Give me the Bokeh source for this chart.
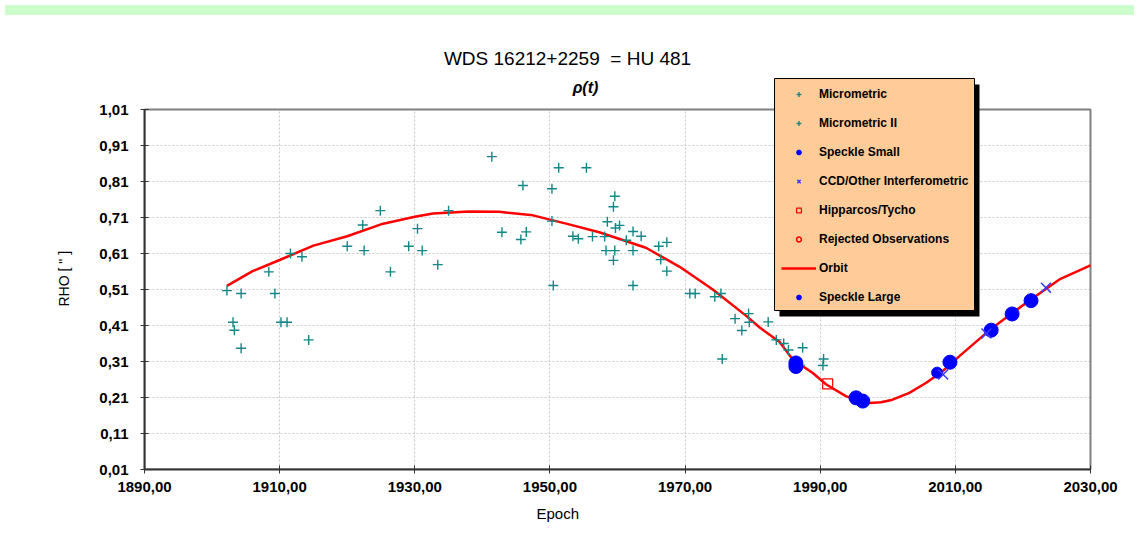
from bokeh.plotting import figure
from bokeh.models import (Range1d, FixedTicker, Label, Legend, LegendItem, BoxAnnotation, Div,
                          Title, ColumnDataSource)
from bokeh.layouts import column
from bokeh.embed import file_html
from bokeh.resources import INLINE

# ---------------- data ----------------
micro_t = [1902.2, 1904.3, 1903.1, 1903.3, 1904.3, 1908.4, 1909.3, 1910.2, 1911.1, 1911.6,
           1913.3, 1914.3, 1920.0, 1922.3, 1922.5, 1924.9, 1926.4, 1929.1, 1930.4, 1931.1,
           1933.4, 1935.0, 1941.4, 1942.9, 1945.7, 1946.5, 1946.0, 1950.3, 1950.3, 1950.5,
           1951.3, 1955.4, 1953.4, 1954.2, 1956.3, 1958.1, 1958.5, 1959.6, 1959.4, 1959.7,
           1960.3, 1958.3, 1959.6, 1959.4, 1961.3, 1962.3, 1963.5, 1962.3, 1962.3, 1966.1,
           1967.3, 1966.4, 1967.3, 1970.7, 1971.5, 1974.4, 1975.3, 1975.5, 1977.4, 1978.4,
           1979.4, 1979.5, 1982.3, 1983.5, 1984.6, 1985.3, 1987.4, 1987.0, 1990.5, 1990.4]
micro_rho = [0.507, 0.499, 0.419, 0.397, 0.347, 0.559, 0.499, 0.419, 0.419, 0.610,
             0.601, 0.370, 0.630, 0.689, 0.618, 0.729, 0.559, 0.630, 0.679, 0.618,
             0.579, 0.729, 0.879, 0.669, 0.649, 0.670, 0.799, 0.790, 0.700, 0.521,
             0.848, 0.848, 0.658, 0.651, 0.657, 0.657, 0.698, 0.769, 0.740, 0.681,
             0.688, 0.618, 0.618, 0.591, 0.647, 0.671, 0.658, 0.618, 0.521, 0.630,
             0.641, 0.593, 0.561, 0.499, 0.499, 0.490, 0.499, 0.317, 0.429, 0.396,
             0.443, 0.419, 0.420, 0.370, 0.360, 0.342, 0.348, 0.300, 0.317, 0.299]
micro2_t = []
micro2_rho = []
speckle_small_t = [2007.3]
speckle_small_rho = [0.279]
speckle_large_t = [1986.4, 1986.4, 1995.3, 1996.3, 2009.2, 2015.3, 2018.4, 2021.2]
speckle_large_rho = [0.306, 0.296, 0.209, 0.200, 0.308, 0.397, 0.442, 0.479]
ccd_t = [2008.2, 2014.6, 2023.4]
ccd_rho = [0.274, 0.388, 0.515]
hip_t = [1991.1]
hip_rho = [0.248]
rej_t = []
rej_rho = []
orbit_t = [1902.2, 1906.0, 1910.0, 1915.0, 1920.0, 1925.0, 1930.0, 1932.7, 1938.0, 1942.5,
           1947.5, 1950.0, 1952.4, 1957.3, 1964.2, 1969.2, 1974.1, 1979.1, 1981.0, 1984.0,
           1985.9, 1988.9, 1990.9, 1993.8, 1995.3, 1997.3, 1999.0, 2000.7, 2003.2, 2005.7,
           2008.1, 2010.6, 2015.5, 2020.5, 2025.4, 2030.0]
orbit_rho = [0.520, 0.561, 0.592, 0.632, 0.658, 0.691, 0.712, 0.721, 0.727, 0.726,
             0.716, 0.704, 0.693, 0.669, 0.626, 0.573, 0.510, 0.436, 0.405, 0.364,
             0.316, 0.278, 0.246, 0.214, 0.203, 0.195, 0.197, 0.204, 0.223, 0.251,
             0.283, 0.325, 0.404, 0.473, 0.538, 0.577]

x_ticks = [1890, 1910, 1930, 1950, 1970, 1990, 2010, 2030]
x_tick_labels = ["1890,00", "1910,00", "1930,00", "1950,00", "1970,00", "1990,00", "2010,00", "2030,00"]
y_ticks = [0.01, 0.11, 0.21, 0.31, 0.41, 0.51, 0.61, 0.71, 0.81, 0.91, 1.01]
y_tick_labels = ["0,01", "0,11", "0,21", "0,31", "0,41", "0,51", "0,61", "0,71", "0,81", "0,91", "1,01"]

title_text = "WDS 16212+2259 \u00a0= HU 481"
subtitle_text = "\u03c1(t)"
x_label = "Epoch"
y_label = 'RHO [ " ]'

FONT = "Liberation Sans"
TEAL = "#138787"

# ---------------- geometry (page pixels) ----------------
X0, X1, Y0, Y1 = 1890, 2030, 0.01, 1.01
FL, FR, FT, FB = 145, 1091, 110, 470      # axis box on the page
CX, CY = 1, 21                             # where the canvas lands on the page
W, H = 1129, 515
TOP = 30                                   # frame top (page), above the title
SX = (FR - FL) / (X1 - X0)                 # px per year
SY = (FB - FT) / (Y1 - Y0)                 # px per rho unit


def dx(px):
    return X0 + (px - FL) / SX


def dy(py):
    return Y1 - (py - FT) / SY


p = figure(width=W, height=H,
           x_range=Range1d(X0, dx(CX + W)), y_range=Range1d(Y0, dy(TOP)),
           output_backend="svg", toolbar_location=None, tools="",
           min_border_left=FL - CX, min_border_right=0,
           min_border_top=TOP - CY, min_border_bottom=CY + H - FB)
p.background_fill_color = "white"
p.border_fill_color = "white"
p.outline_line_color = None

for ax in (p.xaxis, p.yaxis):
    ax.axis_line_color = "#333333"
    ax.axis_line_width = 2
    ax.major_tick_in = 4
    ax.major_tick_out = 4
    ax.major_tick_line_color = "#333333"
    ax.major_tick_line_width = 1
    ax.minor_tick_line_color = None
    ax.major_label_text_font = FONT
    ax.major_label_text_font_style = "bold"
    ax.major_label_text_font_size = "15px"
    ax.major_label_text_color = "black"

p.xaxis.ticker = FixedTicker(ticks=x_ticks)
p.xaxis.major_label_overrides = {t: l for t, l in zip(x_ticks, x_tick_labels)}
p.xaxis.major_label_standoff = 8
p.xaxis.bounds = (X0, X1)
p.yaxis.ticker = FixedTicker(ticks=y_ticks)
p.yaxis.major_label_overrides = {t: l for t, l in zip(y_ticks, y_tick_labels)}
p.yaxis.major_label_standoff = 12
p.yaxis.bounds = (Y0, Y1)

for g in (p.xgrid, p.ygrid):
    g.grid_line_color = "#c8c8c8"
    g.grid_line_dash = "2 2"
    g.grid_line_width = 1

# white covers over the grid outside the axis box, and the box border
p.add_layout(BoxAnnotation(bottom=Y1, fill_color="white", fill_alpha=1, line_color=None,
                           level="underlay"))
p.add_layout(BoxAnnotation(left=X1, fill_color="white", fill_alpha=1, line_color=None,
                           level="underlay"))
p.add_layout(BoxAnnotation(left=X0, right=X1, bottom=Y0, top=Y1, fill_alpha=0,
                           line_color="#808080", line_width=2, line_alpha=1,
                           level="underlay"))

# ---------------- glyphs ----------------
r_orbit = p.line(orbit_t, orbit_rho, line_color="#ff0000", line_width=2.5)
r_micro = p.scatter(micro_t, micro_rho, marker="cross", size=10, line_color=TEAL, line_width=1.4)
r_micro2 = p.scatter(micro2_t, micro2_rho, marker="cross", size=10, line_color=TEAL, line_width=1.4)
r_hip = p.scatter(hip_t, hip_rho, marker="square", size=10, line_color="#ff0000",
                  fill_color=None, line_width=1.2)
r_rej = p.scatter(rej_t, rej_rho, marker="circle", size=6, line_color="#ff0000",
                  fill_color=None, line_width=1.5)
r_ss = p.scatter(speckle_small_t, speckle_small_rho, marker="circle", size=11,
                 fill_color="#0000ff", line_color="#0000ff")
r_sl = p.scatter(speckle_large_t, speckle_large_rho, marker="circle", size=14,
                 fill_color="#0000ff", line_color="#0000ff")
r_ccd = p.scatter(ccd_t, ccd_rho, marker="x", size=14, line_color="#3a3aff", line_width=1.5)

# legend-only swatches for the series without points: muted, fully transparent in the plot
swatch_src = ColumnDataSource(dict(t=hip_t, rho=hip_rho))
sw_micro2 = p.scatter("t", "rho", source=swatch_src, marker="cross", size=10,
                      line_color=TEAL, line_width=1.4, muted_alpha=0)
sw_rej = p.scatter("t", "rho", source=swatch_src, marker="circle", size=6,
                   line_color="#ff0000", fill_color=None, line_width=1.5, muted_alpha=0)
sw_micro2.muted = True
sw_rej.muted = True

# ---------------- titles ----------------
p.add_layout(Label(x=dx(568), y=dy(59), text=title_text, text_align="center",
                   text_baseline="middle", text_font=FONT, text_font_size="19px",
                   text_color="black"))
p.add_layout(Label(x=dx(586), y=dy(88), text=subtitle_text, text_align="center",
                   text_baseline="middle", text_font=FONT, text_font_size="16px",
                   text_font_style="bold italic", text_color="black"))

p.add_layout(Title(text=x_label, align="left", offset=537 - FL, standoff=16, text_font=FONT,
                   text_font_size="15px", text_font_style="normal",
                   text_color="black"), "below")
p.add_layout(Title(text=y_label, align="left", offset=FB - 307, standoff=50, text_font=FONT,
                   text_font_size="14px", text_font_style="normal",
                   text_color="black"), "left")

# ---------------- legend ----------------
p.add_layout(BoxAnnotation(left=dx(780), right=dx(980), top=dy(85), bottom=dy(317),
                           fill_color="black", fill_alpha=1, line_color=None))
p.add_layout(BoxAnnotation(left=dx(775), right=dx(975), top=dy(79), bottom=dy(311),
                           fill_color="#ffcc99", fill_alpha=1, line_color="black",
                           line_width=1, line_alpha=1))

legend = Legend(items=[
    LegendItem(label="Micrometric", renderers=[r_micro]),
    LegendItem(label="Micrometric II", renderers=[sw_micro2]),
    LegendItem(label="Speckle Small", renderers=[r_ss]),
    LegendItem(label="CCD/Other Interferometric", renderers=[r_ccd]),
    LegendItem(label="Hipparcos/Tycho", renderers=[r_hip]),
    LegendItem(label="Rejected Observations", renderers=[sw_rej]),
    LegendItem(label="Orbit", renderers=[r_orbit]),
    LegendItem(label="Speckle Large", renderers=[r_sl]),
], location=(782 - FL, FB - 312))
legend.padding = 0
legend.margin = 0
legend.spacing = 0
legend.label_height = 29
legend.glyph_height = 12
legend.glyph_width = 35
legend.label_standoff = 3
legend.background_fill_alpha = 0
legend.border_line_alpha = 0
legend.label_text_font = FONT
legend.label_text_font_style = "bold"
legend.label_text_font_size = "12px"
legend.label_text_color = "black"
p.add_layout(legend, "center")

top_band = Div(text="", width=W, height=10,
               styles={"background-color": "#ccffcc"})

page = column(top_band, p, spacing=0)
open("out.html", "w").write(file_html(page, INLINE))
